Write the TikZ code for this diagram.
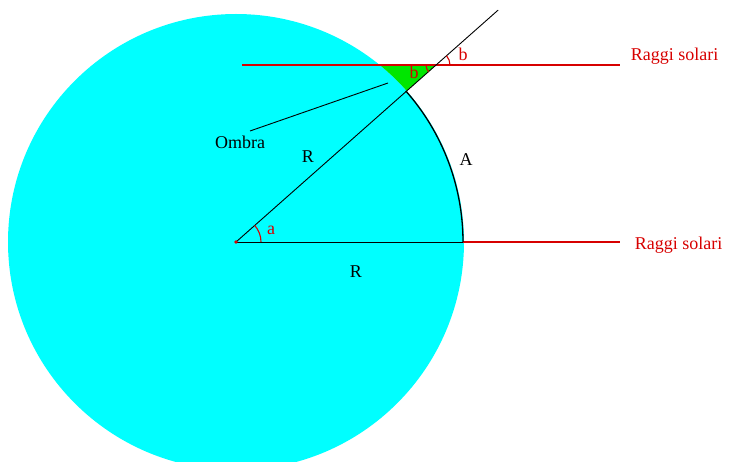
\documentclass[tikz,border=0pt]{standalone}
\usepackage{fontspec}
\setmainfont{Liberation Serif}
\usepackage{tikz}
\usetikzlibrary{calc}
\definecolor{terra}{RGB}{0,255,255}
\definecolor{ombra}{RGB}{0,230,0}
\definecolor{sole}{RGB}{215,0,0}

\begin{document}
\begin{tikzpicture}[x=1pt,y=1pt,line width=0.9pt,
		every node/.style={font=\fontsize{18}{20}\selectfont},
		raggio/.style={sole,line width=1.1pt},
		lbl/.style={sole}]
	\useasboundingbox (0,0) rectangle (729,461);
	\clip (0,0) rectangle (729,461);
	% terra e ombra
	\coordinate (O) at (236,219);
	\fill [terra] (O) circle (228);
	\coordinate (P) at ($(O)+(41.5:228)$);
	\coordinate (S) at ($(O)+(50.9:228)$);
	\coordinate (Q) at (436,396);
	\coordinate (E) at ($(O)+(41.5:350)$);
	\fill [ombra] (S) -- (Q) -- (P) arc (41.5:50.9:228) -- cycle;
	% raggi solari
	\coordinate (T1) at (242,396);
	\coordinate (T2) at (620,396);
	\coordinate (B1) at (463,219);
	\coordinate (B2) at (620,219);
	\draw [raggio] (T1) -- (T2);
	\draw [black] (O) -- (B1);
	\draw [raggio] (B1) -- (B2);
	\draw [black] (O) -- (E);
	\draw [black, line width=1.3pt] (B1) arc (0:41.5:228);
	% angoli
	\draw [raggio] ($(O)+(25,0)$) arc (0:41.5:25);
	\draw [raggio] ($(Q)+(14,0)$) arc (0:41.5:14);
	\draw [raggio] ($(Q)+(-10,0)$) arc (180:221.5:10);
	\fill [sole] (O) circle (1.8);
	% etichette
	\node [lbl] (na) at (271,231) {a};
	\node [lbl] (nb1) at (463,407) {b};
	\node [lbl] (nb2) at (414,389) {b};
	\node (nR1) at (308,304) {R};
	\node (nR2) at (356,189) {R};
	\node (nA) at (466,301) {A};
	\node (omb) at (240,319) {Ombra};
	\coordinate (omb0) at (388,378);
	\coordinate (omb1) at (250,330);
	\draw [black] (omb1) -- (omb0);
	\node [lbl, anchor=west] (rs1) at (627,405) {Raggi solari};
	\node [lbl, anchor=west] (rs2) at (631,216) {Raggi solari};
\end{tikzpicture}
\end{document}
